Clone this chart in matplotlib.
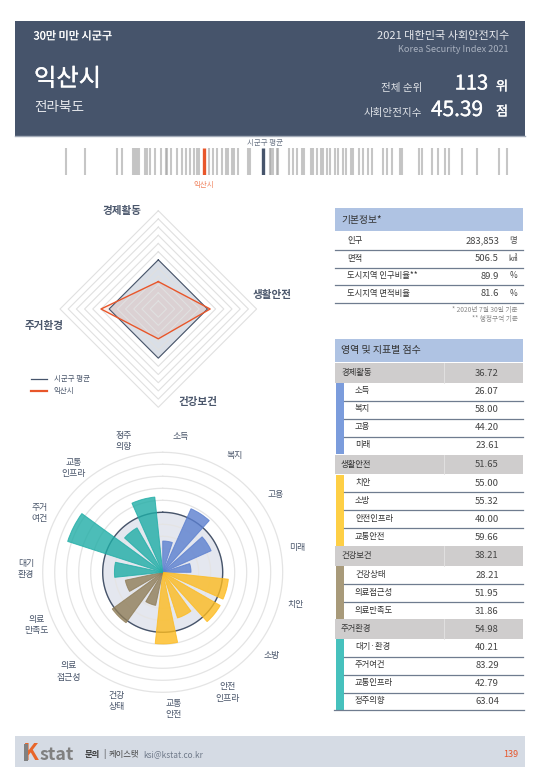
"""익산시 사회안전지수 페이지 재현."""
import matplotlib
matplotlib.use("Agg")
import matplotlib.patheffects as pe
import matplotlib.pyplot as plt
import numpy as np

plt.rcParams["font.family"] = ["Noto Sans CJK KR", "DejaVu Sans"]

# 분포 띠: 시군구별 지수
strip_scores = [34.79, 36.30, 38.76, 39.12, 39.94, 40.10, 40.25, 40.45, 40.87, 41.07,
                41.27, 41.66, 42.10, 42.51, 42.61, 42.91, 43.33, 43.74, 44.04, 44.35,
                44.66, 44.87, 45.07, 45.84, 46.14, 46.41, 46.79, 47.12, 47.30, 47.56,
                47.74, 48.07, 48.84, 48.97, 50.51, 50.58, 50.76, 51.02, 51.14, 51.97,
                52.30, 52.61, 52.99, 53.14, 53.64, 53.84, 54.14, 54.41, 54.61, 54.87,
                55.12, 55.51, 55.71, 56.10, 56.35, 56.71, 56.91, 57.37, 57.68, 58.02,
                58.33, 59.22, 59.53, 59.91, 60.51, 60.68, 61.97, 62.17, 62.94, 63.45,
                63.97, 64.27, 65.30, 66.41, 68.14, 68.74]
city_score = 45.39
avg_score = 50.0

# 영역 점수
domain_names = ["경제활동", "생활안전", "건강보건", "주거환경"]
domain_scores = [36.72, 51.65, 38.21, 54.98]
domain_avg = [50.0, 50.0, 50.0, 50.0]

# 지표 점수
income_names = ["소득", "복지", "고용", "미래"]
income_scores = [26.07, 58.00, 44.20, 23.61]
safety_names = ["치안", "소방", "안전인프라", "교통안전"]
safety_scores = [55.00, 55.32, 40.00, 59.66]
health_names = ["건강상태", "의료접근성", "의료만족도"]
health_scores = [28.21, 51.95, 31.86]
living_names = ["대기·환경", "주거여건", "교통인프라", "정주의향"]
living_scores = [40.21, 83.29, 42.79, 63.04]

rose_labels = ["소득", "복지", "고용", "미래", "치안", "소방", "안전\n인프라", "교통\n안전",
               "건강\n상태", "의료\n접근성", "의료\n만족도", "대기\n환경", "주거\n여건",
               "교통\n인프라", "정주\n의향"]

# 기본정보
info_names = ["인구", "면적", "도시지역 인구비율**", "도시지역 면적비율"]
info_values = ["283,853", "506.5", "89.9", "81.6"]
info_units = ["명", "㎢", "%", "%"]

NAVY = "#46546b"
ORANGE = "#e8562a"
TEXT = "#4a566b"
GROUP_COLORS = ["#7b9cdc", "#fecf45", "#a89a7a", "#46c1bd"]
BAR_COLORS = ["#5b7fcf", "#fdbb1f", "#8f7d58", "#1fada6"]
THICK = [pe.withStroke(linewidth=0.25, foreground="white")]

fig = plt.figure(figsize=(5.4, 7.8), dpi=100)


def px_axes(x0, y0, x1, y1, **kw):
    return fig.add_axes([x0 / 540, 1 - y1 / 780, (x1 - x0) / 540, (y1 - y0) / 780], **kw)


bg = px_axes(0, 0, 540, 780)
bg.set_xlim(0, 540)
bg.set_ylim(780, 0)
bg.axis("off")


def box(x0, y0, x1, y1, color, zorder=1):
    bg.fill_between([x0, x1], y0, y1, color=color, lw=0, zorder=zorder)


# 상단 헤더
box(14.5, 21, 525, 135.5, NAVY)
bg.plot([14.5, 525], [135.8, 135.8], color="#a3abb8", lw=1)
bg.text(33.5, 36.5, "30만 미만 시군구", color="white", fontsize=8, va="center",
        path_effects=[pe.withStroke(linewidth=0.1, foreground="white")])
bg.text(34, 79, "익산시", color="white", fontsize=17.5, va="center", path_effects=THICK)
bg.text(34, 107.5, "전라북도", color="#e8eaee", fontsize=9.8, va="center")
bg.text(509.5, 36.5, "2021 대한민국 사회안전지수", color="#e8eaee", fontsize=8, va="center", ha="right")
bg.text(508.5, 50, "Korea Security Index 2021", color="#a9b1bf", fontsize=6.6, va="center", ha="right")
bg.text(422.5, 87.5, "전체 순위", color="#dfe2e7", fontsize=7.6, va="center", ha="right")
bg.text(422.5, 113, "사회안전지수", color="#dfe2e7", fontsize=7.6, va="center", ha="right")
bg.text(488, 84, "113", color="white", fontsize=14.5, va="center", ha="right", path_effects=THICK)
bg.text(502, 87, "위", color="white", fontsize=9.5, va="center", ha="center", path_effects=THICK)
bg.text(483, 110, "45.39", color="white", fontsize=15, va="center", ha="right", path_effects=THICK)
bg.text(502, 112, "점", color="white", fontsize=9.5, va="center", ha="center", path_effects=THICK)

# 분포 띠
strip = px_axes(60, 148, 512, 175)
strip.set_xlim(34.35, 69.12)
strip.set_ylim(0, 1)
strip.axis("off")
strip.vlines(strip_scores, 0, 1, color="#a0a0a0", lw=1.5, alpha=0.6)
strip.vlines([city_score], 0, 1, color=ORANGE, lw=2.4)
strip.vlines([avg_score], 0, 1, color=NAVY, lw=2.4)
bg.text(265, 142.5, "시군구 평균", color="#6b7585", fontsize=5.4, va="center", ha="center")
bg.text(204, 184.5, "익산시", color="#f0835f", fontsize=5.4, va="center", ha="center")

# 레이더
radar = px_axes(158.3 - 98.3, 309 - 98.3, 158.3 + 98.3, 309 + 98.3, projection="polar")
radar.set_theta_zero_location("N")
radar.set_theta_direction(-1)
radar.set_ylim(20, 80)
radar.axis("off")
radar_theta = np.deg2rad([0, 90, 180, 270, 0])
for level in np.arange(25, 81, 5):
    radar.plot(radar_theta, [level] * 5, color="#e0e0e0", lw=0.8, clip_on=False)
avg_closed = domain_avg + domain_avg[:1]
city_closed = domain_scores + domain_scores[:1]
radar.fill(radar_theta, avg_closed, color="#5a6f96", alpha=0.22, lw=0)
radar.plot(radar_theta, avg_closed, color=NAVY, lw=0.8)
radar.fill(radar_theta, city_closed, color=ORANGE, alpha=0.1, lw=0)
radar.plot(radar_theta, city_closed, color=ORANGE, lw=1)

for name, (lx, ly) in zip(domain_names, [(122, 211), (272.5, 295), (197.5, 402), (44, 326)]):
    bg.text(lx, ly, name, color=TEXT, fontsize=7.6, weight="bold", va="center", ha="center")

bg.plot([31, 47], [379, 379], color=NAVY, lw=0.9)
bg.plot([31, 47], [391, 391], color=ORANGE, lw=1.6)
bg.text(53.5, 379, "시군구 평균", color=TEXT, fontsize=5.4, va="center")
bg.text(53.5, 391, "익산시", color=TEXT, fontsize=5.4, va="center")

# 로즈 차트
rose = px_axes(162.7 - 120, 572.3 - 120, 162.7 + 120, 572.3 + 120, projection="polar")
rose.set_theta_zero_location("N")
rose.set_theta_direction(-1)
rose.set_ylim(0, 100)
rose.axis("off")
circle = np.linspace(0, 2 * np.pi, 241)
rose.fill(circle, np.full(241, avg_score), color="#e4e7ef", lw=0, zorder=1)
for level in range(10, 101, 10):
    rose.plot(circle, np.full(241, level), color="#e4e4e4", lw=0.9, clip_on=False, zorder=2)
rose.plot(circle, np.full(241, avg_score), color=NAVY, lw=1, zorder=3)

rose_groups = [income_scores, safety_scores, health_scores, living_scores]
step = np.deg2rad(24)
idx = 0
for scores, color in zip(rose_groups, BAR_COLORS):
    for val in scores:
        rose.bar(step * idx + np.deg2rad(9), val, width=np.deg2rad(18), color=color,
                 alpha=0.8, edgecolor=color, lw=0.7, zorder=4)
        idx += 1
for i, label in enumerate(rose_labels):
    rose.text(step * i + np.deg2rad(7.5), 114, label, color=TEXT, fontsize=6.4,
              ha="center", va="center", linespacing=1.3)

# 기본정보 표
LINE = "#6f7c8f"
box(335, 208, 523, 231, "#afc3e3")
bg.text(341.5, 219.5, "기본정보*", color="#333333", fontsize=7, va="center")
for i, (name, value, unit) in enumerate(zip(info_names, info_values, info_units)):
    y = 232.5 + i * 17.6
    bg.text(347, y + 8, name, color="#333333", fontsize=6, va="center")
    bg.text(499, y + 8.5, value, color="#444444", fontsize=6.8, va="center", ha="right")
    bg.text(513, y + 8, unit, color="#444444", fontsize=6, va="center", ha="center")
    bg.plot([335, 523], [y + 17.6, y + 17.6], color=LINE, lw=0.9)
bg.text(517.5, 310, "* 2020년 7월 30일 기준", color="#8a8a8a", fontsize=4.8, va="center", ha="right")
bg.text(517.5, 319.5, "** 행정구역 기준", color="#8a8a8a", fontsize=4.8, va="center", ha="right")

# 영역 및 지표별 점수 표
box(335, 339, 523, 362, "#afc3e3")
bg.text(341, 350.5, "영역 및 지표별 점수", color="#333333", fontsize=7.2, va="center")
group_names = [income_names, safety_names, health_names, living_names]
group_tops = [363, 454.5, 546, 619]
for k, top in enumerate(group_tops):
    box(335, top, 523, top + 19.5, "#cfcdcd")
    bg.plot([444, 444], [top, top + 19.5], color="#e4e3e3", lw=0.6)
    bg.text(341, top + 9.5, domain_names[k], color="#333333", fontsize=6, va="center")
    bg.text(487, top + 10, f"{domain_scores[k]:.2f}", color="#444444", fontsize=6.8, va="center", ha="center")
    y = top + 19.5
    n = len(group_names[k])
    box(336, y + 0.5, 343.5, y + n * 18 - 0.5, GROUP_COLORS[k])
    for j, (name, val) in enumerate(zip(group_names[k], rose_groups[k])):
        bg.text(355, y + 8.5, name, color="#333333", fontsize=6, va="center")
        bg.text(487, y + 9.5, f"{val:.2f}", color="#444444", fontsize=6.8, va="center", ha="center")
        y += 18
        if j < n - 1:
            bg.plot([343.5, 523], [y, y], color=LINE, lw=0.9)
bg.plot([334, 524], [709.7, 709.7], color=LINE, lw=0.9)

# 하단
box(15, 736, 525, 767, "#d5dbe4")
bg.text(22.5, 760.5, "K", color="#e8662a", fontsize=16.5, weight="bold", va="baseline")
box(24.3, 744, 28.3, 760.5, "#808080", zorder=5)
bg.text(39.5, 760.5, "stat", color="#808080", fontsize=12.8, weight="bold", va="baseline")
bg.text(84.5, 757, "문의", color="#333333", fontsize=6, weight="bold", va="baseline")
bg.text(103, 757, "|", color="#333333", fontsize=6, va="baseline")
bg.text(109, 757, "케이스탯", color="#444444", fontsize=6, va="baseline")
bg.text(143, 757, "ksi@kstat.co.kr", color="#707a8a", fontsize=6, va="baseline")
bg.text(518, 757, "139", color=ORANGE, fontsize=6.5, va="baseline", ha="right")

fig.savefig("out.png", dpi=100)
plt.close(fig)
